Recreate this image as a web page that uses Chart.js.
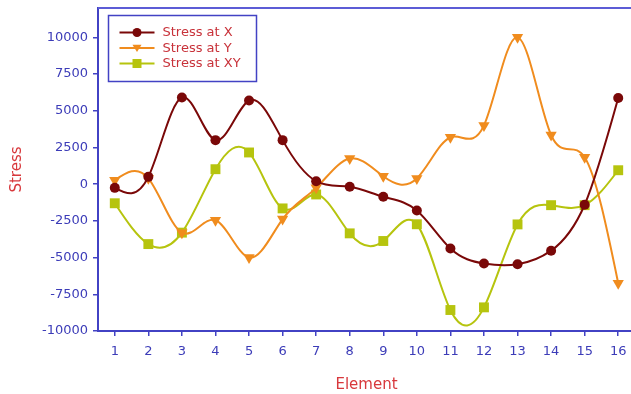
<!DOCTYPE html>
<html>
<head>
<meta charset="utf-8">
<script src="https://cdn.jsdelivr.net/npm/chart.js@4.4.1/dist/chart.umd.min.js"></script>
<style>
  html, body { margin: 0; padding: 0; background: #ffffff; }
  #wrap { width: 631px; height: 394px; overflow: hidden; position: relative; }
  canvas { display: block; }
</style>
</head>
<body>
<div id="wrap"><canvas id="c" width="642" height="394"></canvas></div>
<script>
// Element numbers along the x axis
const elements = ['1','2','3','4','5','6','7','8','9','10','11','12','13','14','15','16'];

// Stress values per element
const stressX  = [-250, 500, 5900, 3000, 5700, 3000, 200, -180, -860, -1790, -4380, -5400, -5450, -4530, -1400, 5870];
const stressY  = [270, 400, -3300, -2450, -5000, -2380, -250, 1750, 540, 390, 3200, 4000, 10000, 3350, 1830, -6750];
const stressXY = [-1300, -4080, -3300, 1020, 2160, -1650, -700, -3350, -3870, -2730, -8570, -8390, -2740, -1430, -1430, 950];

// Y axis tick values
const yTicks = [-10000, -7500, -5000, -2500, 0, 2500, 5000, 7500, 10000];

const seriesNames  = ['Stress at X', 'Stress at Y', 'Stress at XY'];
const seriesColors = ['#7a0808', '#f08c1e', '#b6c40e'];
const seriesShapes = ['circle', 'triangle', 'rect'];

const axisBlue = '#4242c4';
const tickBlue = '#3c3cb8';
const titleRed = '#d8383c';
const FONT = '"DejaVu Sans", Verdana, sans-serif';

function markerPath(ctx, shape, x, y, s) {
  ctx.beginPath();
  if (shape === 'circle') {
    ctx.arc(x, y, s, 0, Math.PI * 2);
  } else if (shape === 'triangle') {
    ctx.moveTo(x - s, y - s * 0.7);
    ctx.lineTo(x + s, y - s * 0.7);
    ctx.lineTo(x, y + s * 0.9);
    ctx.closePath();
  } else {
    ctx.rect(x - s, y - s, 2 * s, 2 * s);
  }
}

// Natural cubic spline through the line's points: replaces the
// bezier control points Chart.js computed for each line element.
const naturalSplinePlugin = {
  id: 'naturalSpline',
  beforeDatasetsDraw(chart) {
    chart.data.datasets.forEach((ds, di) => {
      const meta = chart.getDatasetMeta(di);
      const line = meta.dataset;
      if (!line) return;
      line.updateControlPoints(chart.chartArea, 'x');
      const pts = line.points;
      const n = pts.length;
      if (n < 3) return;
      const h = [], d = [];
      for (let i = 0; i < n - 1; i++) {
        h.push(pts[i + 1].x - pts[i].x);
        d.push((pts[i + 1].y - pts[i].y) / h[i]);
      }
      // tridiagonal system for second derivatives, natural ends
      const M = new Array(n).fill(0);
      const a = [], b = [], c = [], r = [];
      for (let i = 1; i < n - 1; i++) {
        a.push(h[i - 1]);
        b.push(2 * (h[i - 1] + h[i]));
        c.push(h[i]);
        r.push(6 * (d[i] - d[i - 1]));
      }
      const m = b.length;
      for (let i = 1; i < m; i++) {
        const w = a[i] / b[i - 1];
        b[i] -= w * c[i - 1];
        r[i] -= w * r[i - 1];
      }
      const sol = new Array(m);
      sol[m - 1] = r[m - 1] / b[m - 1];
      for (let i = m - 2; i >= 0; i--) sol[i] = (r[i] - c[i] * sol[i + 1]) / b[i];
      for (let i = 0; i < m; i++) M[i + 1] = sol[i];
      // slopes at each point
      const s = new Array(n);
      for (let i = 0; i < n - 1; i++) s[i] = d[i] - h[i] * (2 * M[i] + M[i + 1]) / 6;
      s[n - 1] = d[n - 2] + h[n - 2] * (M[n - 2] + 2 * M[n - 1]) / 6;
      for (let i = 0; i < n; i++) {
        const p = pts[i];
        const hp = i > 0 ? h[i - 1] / 3 : 0;
        const hn = i < n - 1 ? h[i] / 3 : 0;
        p.cp1x = p.x - hp; p.cp1y = p.y - s[i] * hp;
        p.cp2x = p.x + hn; p.cp2y = p.y + s[i] * hn;
      }
      line._path = undefined;
    });
  }
};

// Boxed legend in the upper-left of the plot plus the top frame line
const framePlugin = {
  id: 'frameAndLegend',
  afterDraw(chart) {
    const ctx = chart.ctx;
    const area = chart.chartArea;
    ctx.save();
    ctx.strokeStyle = '#5c5cd6';
    ctx.lineWidth = 2;
    ctx.beginPath();
    ctx.moveTo(area.left, area.top);
    ctx.lineTo(area.right + 5, area.top);
    ctx.stroke();

    const bx = area.left + 10.5, by = area.top + 7.5, bw = 148, bh = 66;
    ctx.lineWidth = 1.5;
    ctx.strokeStyle = axisBlue;
    ctx.fillStyle = '#ffffff';
    ctx.fillRect(bx, by, bw, bh);
    ctx.strokeRect(bx, by, bw, bh);

    ctx.font = '13px ' + FONT;
    ctx.textBaseline = 'middle';
    chart.data.datasets.forEach((ds, i) => {
      const ry = by + 17 + i * 15.5;
      ctx.strokeStyle = ds.borderColor;
      ctx.lineWidth = 2;
      ctx.beginPath();
      ctx.moveTo(bx + 11, ry);
      ctx.lineTo(bx + 46, ry);
      ctx.stroke();
      ctx.fillStyle = ds.borderColor;
      markerPath(ctx, seriesShapes[i], bx + 28.5, ry, 4.5);
      ctx.fill();
      ctx.fillStyle = '#c8323a';
      ctx.fillText(ds.label, bx + 54, ry + 0.5);
    });
    ctx.restore();
  }
};

const seriesData = [stressX, stressY, stressXY];
const datasets = seriesData.map((vals, i) => ({
  label: seriesNames[i],
  data: vals,
  borderColor: seriesColors[i],
  backgroundColor: seriesColors[i],
  borderWidth: 2,
  tension: 0.4,
  capBezierPoints: false,
  pointStyle: seriesShapes[i],
  pointRotation: i === 1 ? 180 : 0,
  pointRadius: i === 0 ? 5 : (i === 1 ? 6.5 : 7),
  pointBorderWidth: 0,
  fill: false
}));

new Chart(document.getElementById('c'), {
  type: 'line',
  data: { labels: elements, datasets: datasets },
  plugins: [naturalSplinePlugin, framePlugin],
  options: {
    responsive: false,
    animation: false,
    layout: { padding: { top: 8, right: 1.5, left: 0, bottom: 0 } },
    plugins: { legend: { display: false }, tooltip: { enabled: false } },
    scales: {
      x: {
        type: 'category',
        offset: true,
        grid: { display: true, drawOnChartArea: false, drawTicks: true, tickLength: 5, color: axisBlue, lineWidth: 1.5 },
        border: { display: true, color: axisBlue, width: 2 },
        ticks: { color: tickBlue, font: { family: FONT, size: 13 }, padding: 8, maxRotation: 0, autoSkip: false },
        title: { display: true, text: 'Element', color: titleRed, font: { family: FONT, size: 15 }, padding: { top: 0, bottom: 0 } },
        afterFit(scale) { scale.height = 63; scale.paddingLeft = 0; scale.paddingRight = 0; }
      },
      y: {
        min: -10000,
        max: 12000,
        grid: { display: true, drawOnChartArea: false, drawTicks: true, tickLength: 5, color: axisBlue, lineWidth: 1.5 },
        border: { display: true, color: axisBlue, width: 2 },
        ticks: { color: tickBlue, font: { family: FONT, size: 13 }, padding: 5, callback: (v) => String(v) },
        afterBuildTicks(scale) { scale.ticks = yTicks.map(v => ({ value: v })); },
        title: { display: true, text: 'Stress', color: titleRed, font: { family: FONT, size: 15 }, padding: { top: 8, bottom: 0 } },
        afterFit(scale) { scale.width = 98; scale.paddingTop = 0; scale.paddingBottom = 0; }
      }
    }
  }
});
</script>
</body>
</html>
